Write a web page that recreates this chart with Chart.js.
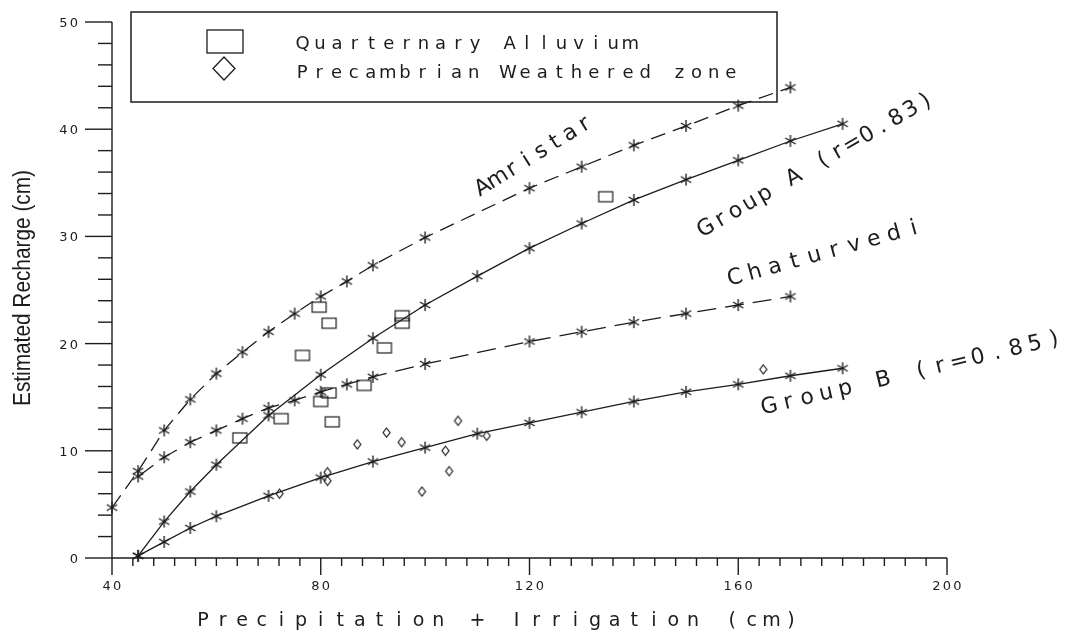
<!DOCTYPE html>
<html>
<head>
<meta charset="utf-8">
<script src="https://cdn.jsdelivr.net/npm/chart.js@4.4.1/dist/chart.umd.min.js"></script>
<style>
  html, body { margin: 0; padding: 0; background: #ffffff; }
  #wrap { width: 1074px; height: 632px; }
</style>
</head>
<body>
<div id="wrap"><canvas id="c" width="1074" height="632"></canvas></div>
<script>
// ---------------- DATA ----------------
const amristarX   = [40, 45, 50, 55, 60, 65, 70, 75, 80, 85, 90, 100, 120, 130, 140, 150, 160, 170];
const amristarY   = [4.7, 8.1, 11.9, 14.8, 17.2, 19.2, 21.1, 22.8, 24.4, 25.8, 27.3, 29.9, 34.5, 36.5, 38.5, 40.3, 42.2, 43.9];

const groupAX     = [45, 50, 55, 60, 70, 80, 90, 100, 110, 120, 130, 140, 150, 160, 170, 180];
const groupAY     = [0.2, 3.4, 6.2, 8.7, 13.3, 17.1, 20.5, 23.6, 26.3, 28.9, 31.2, 33.4, 35.3, 37.1, 38.9, 40.5];

const chaturvediX = [45, 50, 55, 60, 65, 70, 75, 80, 85, 90, 100, 120, 130, 140, 150, 160, 170];
const chaturvediY = [7.6, 9.4, 10.8, 11.9, 13.0, 14.0, 14.7, 15.5, 16.2, 16.9, 18.1, 20.2, 21.1, 22.0, 22.8, 23.6, 24.4];

const groupBX     = [45, 50, 55, 60, 70, 80, 90, 100, 110, 120, 130, 140, 150, 160, 170, 180];
const groupBY     = [0.2, 1.5, 2.8, 3.9, 5.8, 7.5, 9.0, 10.3, 11.6, 12.6, 13.6, 14.6, 15.5, 16.2, 17.0, 17.7];

const alluviumX   = [79.7, 81.6, 76.5, 92.2, 95.6, 95.6, 88.3, 81.6, 80.0, 82.2, 72.4, 64.5, 134.6];
const alluviumY   = [23.4, 21.9, 18.9, 19.6, 22.6, 21.9, 16.1, 15.4, 14.6, 12.7, 13.0, 11.2, 33.7];

const weatheredX  = [72.1, 81.3, 81.3, 87.0, 92.6, 95.5, 106.3, 103.9, 104.6, 99.4, 111.8, 164.8];
const weatheredY  = [6.0, 8.0, 7.2, 10.6, 11.7, 10.8, 12.8, 10.0, 8.1, 6.2, 11.4, 17.6];

const xTicks = [40, 80, 120, 160, 200];
const yTicks = [0, 10, 20, 30, 40, 50];
const xTitle = 'Precipitation + Irrigation (cm)';
const yTitle = 'Estimated Recharge (cm)';
const legendLabels = ['Quarternary Alluvium', 'Precambrian Weathered zone'];
const curveLabels  = ['Amristar', 'Group A (r=0.83)', 'Chaturvedi', 'Group B (r=0.85)'];

// ---------------- STYLE HELPERS ----------------
const INK = '#1c1c1c';
const PLOT_FONT = '"DejaVu Sans"';

function pts(xs, ys) { return xs.map((x, i) => ({ x: x, y: ys[i] })); }

function makeStar(r, lw) {
  const s = Math.ceil(2 * r + 4);
  const c = document.createElement('canvas');
  c.width = s; c.height = s;
  const g = c.getContext('2d');
  g.strokeStyle = INK; g.lineWidth = lw;
  const m = s / 2;
  [90, 30, 150].forEach(a => {
    const rad = a * Math.PI / 180;
    const dx = Math.cos(rad) * r, dy = Math.sin(rad) * r;
    g.beginPath(); g.moveTo(m - dx, m - dy); g.lineTo(m + dx, m + dy); g.stroke();
  });
  return c;
}
function makeRect(w, h, lw) {
  const c = document.createElement('canvas');
  c.width = w + 4; c.height = h + 4;
  const g = c.getContext('2d');
  g.strokeStyle = INK; g.lineWidth = lw;
  g.strokeRect(2, 2, w, h);
  return c;
}
function makeDiamond(w, h, lw) {
  const c = document.createElement('canvas');
  c.width = w + 4; c.height = h + 4;
  const g = c.getContext('2d');
  g.strokeStyle = INK; g.lineWidth = lw;
  const cx = c.width / 2, cy = c.height / 2;
  g.beginPath();
  g.moveTo(cx, cy - h / 2); g.lineTo(cx + w / 2, cy); g.lineTo(cx, cy + h / 2); g.lineTo(cx - w / 2, cy);
  g.closePath(); g.stroke();
  return c;
}

const starImg = makeStar(6, 1.35);
const rectImg = makeRect(14, 10, 1.2);
const diamImg = makeDiamond(7, 9, 1.2);

// draw text with fixed per-character advance (plotter style), centred at (cx, cy) on its baseline
function spaced(ctx, text, cx, cy, adv, angleDeg, size) {
  ctx.save();
  ctx.translate(cx, cy);
  ctx.rotate(angleDeg * Math.PI / 180);
  ctx.font = size + 'px ' + PLOT_FONT;
  ctx.fillStyle = INK;
  ctx.textAlign = 'center';
  ctx.textBaseline = 'alphabetic';
  const n = text.length;
  for (let i = 0; i < n; i++) {
    const ch = text[i];
    if (ch === ' ') continue;
    ctx.fillText(ch, (i - (n - 1) / 2) * adv, 0);
  }
  ctx.restore();
}

const decor = {
  id: 'decor',
  afterDraw(chart) {
    const ctx = chart.ctx;
    const xs = chart.scales.x, ys = chart.scales.y;
    const X = v => xs.getPixelForValue(v);
    const Y = v => ys.getPixelForValue(v);
    const line = (a, b, c, d) => { ctx.beginPath(); ctx.moveTo(a, b); ctx.lineTo(c, d); ctx.stroke(); };

    ctx.save();
    ctx.strokeStyle = INK;
    ctx.lineWidth = 1.4;

    // y axis with major/minor ticks
    const x0 = X(xs.min), y0 = Y(ys.min);
    line(x0, y0, x0, Y(ys.max));
    for (let v = ys.min; v <= ys.max + 1e-9; v += 2) {
      const major = Math.abs(v % 10) < 1e-9;
      line(x0 - (major ? 27 : 14), Y(v), x0, Y(v));
    }
    // x axis with major/minor ticks
    line(x0, y0, X(xs.max), y0);
    for (let v = xs.min; v <= xs.max + 1e-9; v += 4) {
      const major = Math.abs(v % 40) < 1e-9;
      line(X(v), y0, X(v), y0 + (major ? 17 : 8));
    }

    // tick labels
    yTicks.forEach(v => {
      const s = String(v);
      const adv = 10.5;
      const cx = 74 - (s.length - 1) * adv / 2;
      spaced(ctx, s, cx, Y(v) + 5, adv, 0, 13);
    });
    xTicks.forEach(v => {
      spaced(ctx, String(v), X(v), y0 + 32, 10.5, 0, 13);
    });

    // axis titles
    spaced(ctx, xTitle, 497, 626, 19.6, 0, 19);

    ctx.save();
    ctx.translate(24, 288);
    ctx.rotate(-Math.PI / 2);
    ctx.font = '23px "Liberation Sans"';
    const w = ctx.measureText(yTitle).width;
    ctx.scale(236 / w, 1);
    ctx.fillStyle = INK;
    ctx.textAlign = 'center';
    ctx.textBaseline = 'middle';
    ctx.fillText(yTitle, 0, 0);
    ctx.restore();

    // legend box
    ctx.lineWidth = 1.5;
    ctx.strokeRect(131, 12, 646, 90);
    ctx.lineWidth = 1.3;
    ctx.strokeRect(207, 30, 36, 23);
    ctx.beginPath();
    ctx.moveTo(224, 57); ctx.lineTo(235, 68.5); ctx.lineTo(224, 80); ctx.lineTo(213, 68.5); ctx.closePath();
    ctx.stroke();
    spaced(ctx, legendLabels[0], 466.5, 49, 17.25, 0, 18);
    spaced(ctx, legendLabels[1], 516.5, 78, 17.15, 0, 18);

    // curve labels
    spaced(ctx, curveLabels[0], 537, 161, 17.1, -32, 22);
    spaced(ctx, curveLabels[1], 819, 170, 16.9, -30, 22);
    spaced(ctx, curveLabels[2], 826, 259, 20.6, -15.5, 22);
    spaced(ctx, curveLabels[3], 913, 379, 19.5, -13.3, 22);

    ctx.restore();
  }
};

const lineBase = {
  showLine: true,
  borderColor: INK,
  backgroundColor: INK,
  borderWidth: 1.3,
  tension: 0,
  pointStyle: starImg,
  pointRadius: 6,
  clip: false
};

new Chart(document.getElementById('c'), {
  type: 'scatter',
  data: {
    datasets: [
      Object.assign({}, lineBase, { label: curveLabels[0], data: pts(amristarX, amristarY), borderDash: [15, 8] }),
      Object.assign({}, lineBase, { label: curveLabels[1], data: pts(groupAX, groupAY) }),
      Object.assign({}, lineBase, { label: curveLabels[2], data: pts(chaturvediX, chaturvediY), borderDash: [19, 9] }),
      Object.assign({}, lineBase, { label: curveLabels[3], data: pts(groupBX, groupBY) }),
      { label: legendLabels[0], data: pts(alluviumX, alluviumY), showLine: false, pointStyle: rectImg, pointRadius: 6, clip: false },
      { label: legendLabels[1], data: pts(weatheredX, weatheredY), showLine: false, pointStyle: diamImg, pointRadius: 5, clip: false }
    ]
  },
  options: {
    responsive: false,
    animation: false,
    devicePixelRatio: 1,
    layout: { padding: { left: 112, right: 127, top: 22, bottom: 74 } },
    scales: {
      x: { type: 'linear', min: 40, max: 200, display: false },
      y: { type: 'linear', min: 0, max: 50, display: false }
    },
    plugins: {
      legend: { display: false },
      tooltip: { enabled: false }
    }
  },
  plugins: [decor]
});
</script>
</body>
</html>
